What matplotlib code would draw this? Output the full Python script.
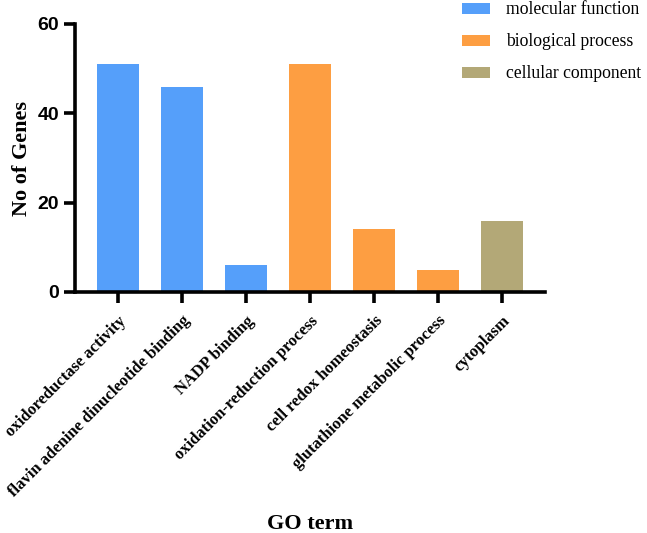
import matplotlib
matplotlib.use("Agg")
import matplotlib.pyplot as plt
from matplotlib.patches import Patch

terms = ["oxidoreductase activity", "flavin adenine dinucleotide binding", "NADP binding",
         "oxidation-reduction process", "cell redox homeostasis",
         "glutathione metabolic process", "cytoplasm"]
counts = [51, 46, 6, 51, 14, 5, 16]
groups = ["molecular function", "molecular function", "molecular function",
          "biological process", "biological process", "biological process",
          "cellular component"]
group_names = ["molecular function", "biological process", "cellular component"]
group_colors = {"molecular function": "#559ffa", "biological process": "#fd9e42",
                "cellular component": "#b3a877"}
yticks = [0, 20, 40, 60]

fig = plt.figure(figsize=(6.47, 5.33), dpi=100)
ax = fig.add_axes([75/647, 1-292/533, 470/647, 268/533])
x = list(range(len(terms)))
ax.bar(x, counts, width=0.66, color=[group_colors[g] for g in groups])
ax.set_xlim(-0.67, 6.67)
ax.set_ylim(0, 60)
for s in ["top", "right"]:
    ax.spines[s].set_visible(False)
for s in ["left", "bottom"]:
    ax.spines[s].set_linewidth(2.6)
ax.tick_params(axis="both", width=2.6, length=8)
ax.tick_params(axis="x", pad=7)
ax.set_yticks(yticks)
ax.set_yticklabels([str(v) for v in yticks], fontfamily="Liberation Sans",
                   fontweight="bold", fontsize=14)
ax.set_xticks(x)
ax.set_xticklabels(terms, rotation=45, ha="right", va="top", rotation_mode="anchor",
                   fontfamily="Liberation Serif", fontweight="bold", fontsize=12)
ax.set_ylabel("No of Genes", fontfamily="Liberation Serif", fontweight="bold",
              fontsize=16, labelpad=4)
fig.text(310/647, 4/533, "GO term", ha="center", va="baseline",
         fontfamily="Liberation Serif", fontweight="bold", fontsize=16)
handles = [Patch(facecolor=group_colors[g], edgecolor="none", label=g) for g in group_names]
fig.legend(handles=handles, loc="upper left", bbox_to_anchor=(446/647, 1.027),
           frameon=False, prop={"family": "Liberation Serif", "size": 12.7},
           handlelength=1.6, handleheight=0.6, labelspacing=0.85, handletextpad=0.9)
fig.savefig("out.png", dpi=100)
